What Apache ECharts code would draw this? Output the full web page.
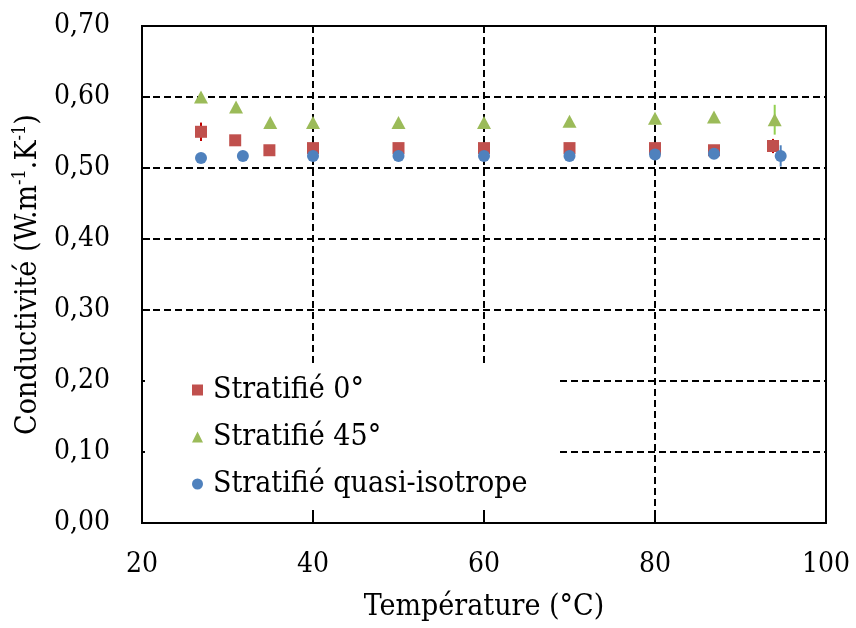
<!DOCTYPE html>
<html>
<head>
<meta charset="utf-8">
<script src="https://cdn.jsdelivr.net/npm/echarts@6/dist/echarts.min.js"></script>
<style>
html, body { margin: 0; padding: 0; background: #fff; }
#main { width: 856px; height: 628px; }
</style>
</head>
<body>
<div id="main"></div>
<script>
// Températures (°C) et conductivités (W.m-1.K-1)
var tempZero = [26.9, 30.9, 34.9, 40, 50, 60, 70, 80, 86.9, 93.8];
var condZero = [0.551, 0.539, 0.525, 0.528, 0.528, 0.528, 0.528, 0.528, 0.525, 0.531];
var errZero = [0.013, 0, 0, 0, 0, 0, 0, 0, 0, 0.010];

var temp45 = [26.9, 31.0, 35.0, 40, 50, 60, 70, 80, 86.9, 94.0];
var cond45 = [0.600, 0.586, 0.564, 0.564, 0.564, 0.564, 0.566, 0.570, 0.572, 0.568];
var err45 = [0.005, 0, 0, 0, 0, 0, 0, 0, 0, 0.021];

var tempIso = [26.9, 31.8, 40, 50, 60, 70, 80, 86.9, 94.7];
var condIso = [0.514, 0.517, 0.517, 0.517, 0.517, 0.517, 0.519, 0.520, 0.517];
var errIso = [0.006, 0, 0, 0, 0, 0, 0, 0, 0.015];

var xTicks = [20, 40, 60, 80, 100];

var names = ['Stratifié 0°', 'Stratifié 45°', 'Stratifié quasi-isotrope'];
var colors = ['#c0504d', '#9bbb59', '#4f81bd'];
var errColors = ['#c00000', '#92d050', '#4f81bd'];

var font = 'DejaVu Serif Condensed';

function pts(xs, ys) {
    return xs.map(function (x, i) { return [x, ys[i]]; });
}

// barres d'erreur verticales
function errSeries(xs, ys, es, color) {
    return {
        type: 'custom',
        silent: true,
        z: 1,
        renderItem: function (params, api) {
            var top = api.coord([api.value(0), api.value(1) + api.value(2)]);
            var bot = api.coord([api.value(0), api.value(1) - api.value(2)]);
            return {
                type: 'line',
                shape: { x1: top[0], y1: top[1], x2: bot[0], y2: bot[1] },
                style: { stroke: color, lineWidth: 2 }
            };
        },
        data: xs.map(function (x, i) { return [x, ys[i], es[i]]; })
    };
}

var myChart = echarts.init(document.getElementById('main'));
var option = {
    animation: false,
    backgroundColor: '#fff',
    grid: {
        left: 142,
        right: 30,
        top: 26,
        bottom: 105,
        containLabel: false,
        outerBoundsMode: 'none',
        show: true,
        borderColor: '#000',
        borderWidth: 2
    },
    legend: {
        orient: 'vertical',
        left: 145,
        top: 367,
        padding: [8, 30, 8, 47],
        itemGap: 17,
        itemWidth: 11,
        itemHeight: 11,
        backgroundColor: '#fff',
        z: 10,
        textStyle: {
            fontFamily: font,
            fontSize: 30,
            color: '#000',
            padding: [0, 0, 0, 5]
        },
        data: [
            { name: names[0], icon: 'rect' },
            { name: names[1], icon: 'triangle' },
            { name: names[2], icon: 'circle' }
        ]
    },
    xAxis: {
        type: 'value',
        min: 20,
        max: 100,
        interval: 20,
        name: 'Température (°C)',
        nameLocation: 'middle',
        nameGap: 69,
        nameTextStyle: { fontFamily: font, fontSize: 30, color: '#000' },
        axisLine: { lineStyle: { color: '#000', width: 2 } },
        axisTick: { inside: true, length: 8, lineStyle: { color: '#000', width: 2 } },
        axisLabel: {
            fontFamily: font,
            fontSize: 28,
            color: '#000',
            margin: 28,
            formatter: function (v) { return xTicks.indexOf(v) >= 0 ? String(v) : ''; }
        },
        splitLine: {
            show: true,
            lineStyle: { color: '#000', type: [7, 4], width: 2 }
        }
    },
    yAxis: {
        type: 'value',
        min: 0,
        max: 0.7,
        interval: 0.1,
        name: '{t|Conductivité (W.m}{s|-1}{t|.K}{s|-1}{t|)}',
        nameLocation: 'middle',
        nameGap: 88,
        nameRotate: 90,
        nameTextStyle: {
            rich: {
                t: { fontFamily: font, fontSize: 30, color: '#000', lineHeight: 34 },
                s: { fontFamily: font, fontSize: 18, color: '#000', verticalAlign: 'top', lineHeight: 34, padding: [0, 0, 12, 0] }
            }
        },
        axisLine: { lineStyle: { color: '#000', width: 2 } },
        axisTick: { inside: true, length: 8, lineStyle: { color: '#000', width: 2 } },
        axisLabel: {
            fontFamily: font,
            fontSize: 28,
            color: '#000',
            margin: 32,
            formatter: function (v) { return v.toFixed(2).replace('.', ','); }
        },
        splitLine: {
            show: true,
            lineStyle: { color: '#000', type: [7, 4], width: 2 }
        }
    },
    series: [
        {
            name: names[0],
            type: 'scatter',
            symbol: 'rect',
            symbolSize: 12,
            z: 3,
            itemStyle: { color: colors[0], opacity: 1 },
            data: pts(tempZero, condZero)
        },
        {
            name: names[1],
            type: 'scatter',
            symbol: 'triangle',
            symbolSize: [14, 13],
            z: 3,
            itemStyle: { color: colors[1], opacity: 1 },
            data: pts(temp45, cond45)
        },
        {
            name: names[2],
            type: 'scatter',
            symbol: 'circle',
            symbolSize: 12,
            z: 3,
            itemStyle: { color: colors[2], opacity: 1 },
            data: pts(tempIso, condIso)
        },
        errSeries(tempZero, condZero, errZero, errColors[0]),
        errSeries(temp45, cond45, err45, errColors[1]),
        errSeries(tempIso, condIso, errIso, errColors[2])
    ]
};
myChart.setOption(option);
</script>
</body>
</html>
